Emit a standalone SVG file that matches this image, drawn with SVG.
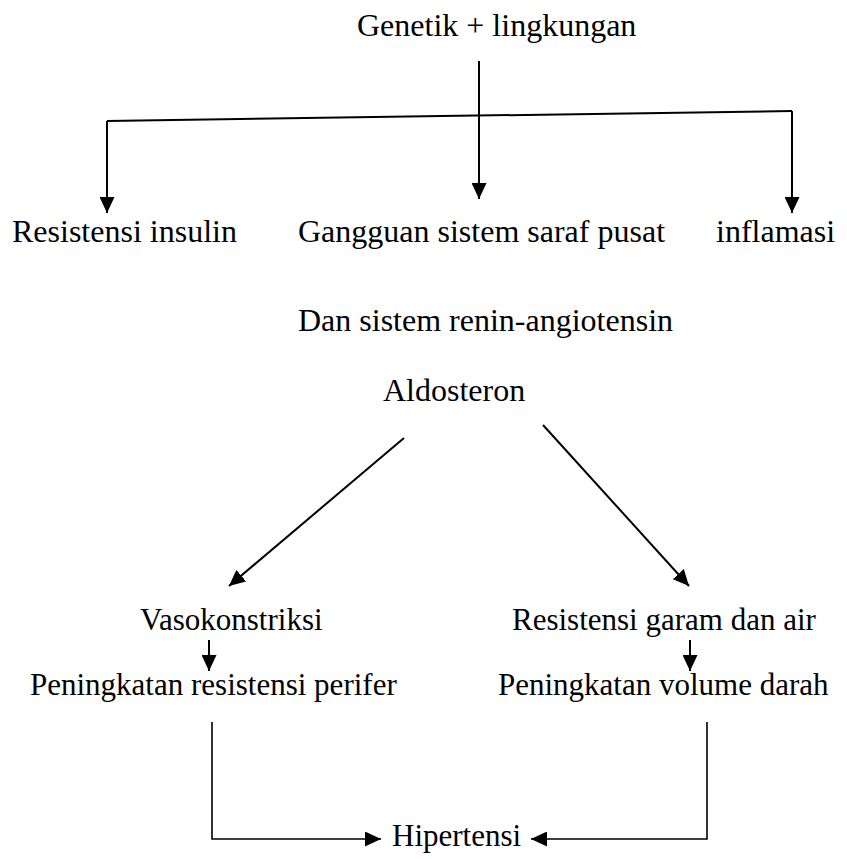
<svg xmlns="http://www.w3.org/2000/svg" width="847" height="859" viewBox="0 0 847 859" font-family="'Liberation Serif', serif">
<style>
text{font-family:"Liberation Serif",serif;font-size:32px;fill:#000}
.s{font-size:31px}
.c{fill:none;stroke:#000;stroke-width:2}
.t{fill:none;stroke:#000;stroke-width:1.6}
</style>
<defs>
<marker id="ah" markerUnits="userSpaceOnUse" markerWidth="16" markerHeight="15" refX="16" refY="7.5" orient="auto">
<path d="M0,0 L16,7.5 L0,15 z" fill="#000"/>
</marker>
</defs>
<rect width="847" height="859" fill="#fff"/>
<g id="connectors">
<path class="c" d="M479,61 L479,199" marker-end="url(#ah)"/>
<path class="c" d="M107,121 L792,111"/>
<path class="c" d="M107,121 L107,213" marker-end="url(#ah)"/>
<path class="c" d="M792,111 L792,213" marker-end="url(#ah)"/>
<path class="c" d="M404,438 L229,586" marker-end="url(#ah)"/>
<path class="c" d="M543,425 L689,586" marker-end="url(#ah)"/>
<path class="c" d="M209,640 L209,671" marker-end="url(#ah)"/>
<path class="c" d="M690,640 L690,671" marker-end="url(#ah)"/>
<path class="t" d="M212,722 L212,839 L381,839" marker-end="url(#ah)"/>
<path class="t" d="M707,722 L707,839 L531,839" marker-end="url(#ah)"/>
</g>
<g id="genetik"><text x="357" y="36">Genetik + lingkungan</text></g>
<g id="resistensi-insulin"><text x="12" y="242">Resistensi insulin</text></g>
<g id="gangguan"><text x="298" y="242">Gangguan sistem saraf pusat</text></g>
<g id="inflamasi"><text x="716" y="242">inflamasi</text></g>
<g id="renin"><text x="298" y="331">Dan sistem renin-angiotensin</text></g>
<g id="aldosteron"><text x="383" y="401">Aldosteron</text></g>
<g id="vasokonstriksi"><text class="s" x="140" y="630">Vasokonstriksi</text></g>
<g id="resistensi-garam"><text class="s" x="512" y="630">Resistensi garam dan air</text></g>
<g id="resistensi-perifer"><text class="s" x="30" y="695">Peningkatan resistensi perifer</text></g>
<g id="volume-darah"><text class="s" x="498" y="695">Peningkatan volume darah</text></g>
<g id="hipertensi"><text class="s" x="392" y="846">Hipertensi</text></g>
</svg>
